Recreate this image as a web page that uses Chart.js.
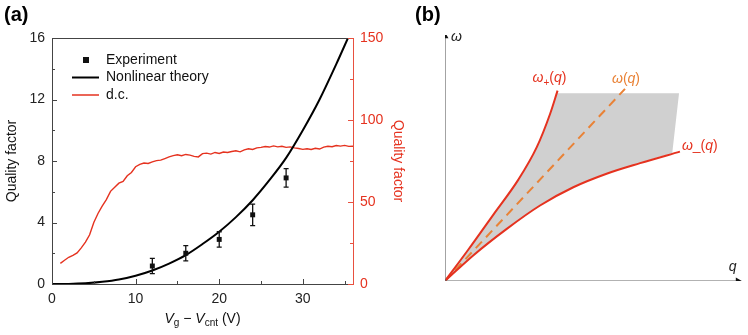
<!DOCTYPE html>
<html>
<head>
<meta charset="utf-8">
<script src="https://cdn.jsdelivr.net/npm/chart.js@4.4.1/dist/chart.umd.min.js"></script>
<style>
html,body{margin:0;padding:0;background:#fff;}
#wrap{position:relative;width:748px;height:335px;overflow:hidden;}
#ca{position:absolute;left:0;top:0;}
#cb{position:absolute;left:410px;top:0;}
</style>
</head>
<body>
<div id="wrap">
<canvas id="ca" width="410" height="335"></canvas>
<canvas id="cb" width="338" height="335"></canvas>
</div>
<script>
// ---------- Panel (a) data ----------
const expV   = [12, 16, 20, 24, 28];
const expQ   = [1.17, 2.0, 2.9, 4.5, 6.9];
const expErr = [0.5, 0.5, 0.5, 0.7, 0.6];

const theoryV = [0, 2, 4, 6, 8, 10, 12, 14, 16, 18, 20, 22, 24, 26, 28, 30, 32, 34, 35.4];
const theoryQ = [0, 0.007, 0.047, 0.14, 0.29, 0.54, 0.88, 1.33, 1.88, 2.6, 3.4, 4.35, 5.45, 6.75, 8.2, 10.0, 12.0, 14.3, 16.0];

const dcV = [1,1.5,2,2.5,3,3.5,4,4.5,5,5.5,6,6.5,7,7.5,8,8.5,9,9.5,10,10.5,11,11.5,12,12.5,13,13.5,14,14.5,15,15.5,16,16.5,17,17.5,18,18.5,19,19.5,20,20.5,21,21.5,22,22.5,23,23.5,24,24.5,25,25.5,26,26.5,27,27.5,28,28.5,29,29.5,30,30.5,31,31.5,32,32.5,33,33.5,34,34.5,35,35.5,36];
const dcQ = [12.6,14.5,16.3,17.5,19,22,25.5,30,37.5,43,47.5,51.5,56.5,59,61.5,62.5,66,68,71.5,73,73.8,73.5,74.5,75.2,75.5,76.5,77.5,78.3,78.8,78.2,79,78.6,77.8,77.5,79.5,79.8,79.2,80.2,79.6,80.5,80.2,80.8,81.2,80.6,81.8,82.5,82,83,83.3,83.8,83.5,84.2,83.6,84,83.3,83.6,83,82.6,82.1,82.5,82,82.8,82.3,83.5,84,83.7,84.4,84.1,84.5,83.9,84];

const xTicks = [0, 10, 20, 30],      xMinor = [5, 15, 25, 35];
const yTicks = [0, 4, 8, 12, 16],    yMinor = [2, 6, 10, 14];
const y2Ticks = [0, 50, 100, 150],   y2Minor = [25, 75, 125];

const legendLabels = ['Experiment', 'Nonlinear theory', 'd.c.'];

// ---------- Panel (b) data (schematic, arbitrary units) ----------
const plusQ  = [0, 0.8, 1.63, 2.47, 3.09, 3.54, 3.79];
const plusW  = [0, 1.3, 2.70, 4.12, 5.44, 6.80, 7.74];
const minusQ = [0, 0.95, 2.08, 3.20, 4.32, 5.44, 6.57, 7.91];
const minusW = [0, 1.04, 2.12, 3.07, 3.81, 4.36, 4.79, 5.26];
const midQ   = [0, 6.06];
const midW   = [0, 7.81];
const bandQ  = [0, 0.4, 0.8, 1.2, 1.63, 2.05, 2.47, 2.8, 3.09, 3.33, 3.54, 3.68, 3.76, 7.88, 7.65, 7.2, 6.57, 6.0, 5.44, 4.88, 4.32, 3.76, 3.20, 2.64, 2.08, 1.5, 0.95, 0.45, 0];
const bandW  = [0, 0.65, 1.3, 1.98, 2.70, 3.41, 4.12, 4.8, 5.44, 6.1, 6.80, 7.25, 7.63, 7.63, 5.18, 5.05, 4.79, 4.59, 4.36, 4.11, 3.81, 3.46, 3.07, 2.62, 2.12, 1.6, 1.04, 0.5, 0];

const FONT = "'Liberation Sans', Arial, sans-serif";
const RED = '#e5321f';
const RED_AX = '#e8503f';
const ORANGE = '#e98236';
const AX = '#444';

const pts = (xs, ys) => xs.map((v, i) => ({x: v, y: ys[i]}));

// ---------- Panel (a) ----------
const panelA = {
  id: 'panelA',
  afterDraw(chart) {
    const {ctx, chartArea: ca, scales: {x, y, y2}} = chart;
    ctx.save();
    ctx.strokeStyle = AX; ctx.lineWidth = 1;
    ctx.beginPath(); ctx.moveTo(ca.left, ca.top + 0.5); ctx.lineTo(ca.right, ca.top + 0.5); ctx.stroke();
    const tick = (scale, vals, len, color, side) => {
      ctx.strokeStyle = color; ctx.lineWidth = 1;
      vals.forEach(v => {
        const p = Math.round(scale.getPixelForValue(v)) + 0.5;
        ctx.beginPath();
        if (side === 'b') { ctx.moveTo(p, ca.bottom); ctx.lineTo(p, ca.bottom - len); }
        if (side === 'l') { ctx.moveTo(ca.left, p); ctx.lineTo(ca.left + len, p); }
        if (side === 'r') { ctx.moveTo(ca.right, p); ctx.lineTo(ca.right - len, p); }
        ctx.stroke();
      });
    };
    tick(x, xTicks, 5, AX, 'b'); tick(x, xMinor, 3, AX, 'b');
    tick(y, yTicks, 5, AX, 'l'); tick(y, yMinor, 3, AX, 'l');
    tick(y2, y2Ticks, 5, RED_AX, 'r'); tick(y2, y2Minor, 3, RED_AX, 'r');

    ctx.strokeStyle = '#111'; ctx.lineWidth = 1.3;
    expV.forEach((v, i) => {
      const px = x.getPixelForValue(v);
      const pTop = y.getPixelForValue(expQ[i] + expErr[i]);
      const pBot = y.getPixelForValue(expQ[i] - expErr[i]);
      ctx.beginPath();
      ctx.moveTo(px, pTop); ctx.lineTo(px, pBot);
      ctx.moveTo(px - 2.5, pTop); ctx.lineTo(px + 2.5, pTop);
      ctx.moveTo(px - 2.5, pBot); ctx.lineTo(px + 2.5, pBot);
      ctx.stroke();
    });

    const ds = chart.data.datasets;
    const lx = ca.left + 20, tx = ca.left + 54;
    let ly = ca.top + 22;
    ctx.font = '14px ' + FONT; ctx.textBaseline = 'middle'; ctx.textAlign = 'left';
    ctx.fillStyle = '#111';
    ctx.fillRect(lx + 11, ly - 3, 6, 6);
    ctx.fillText(legendLabels[0], tx, ly);
    ly += 17.5;
    ctx.strokeStyle = ds[1].borderColor; ctx.lineWidth = 2;
    ctx.beginPath(); ctx.moveTo(lx, ly); ctx.lineTo(lx + 27, ly); ctx.stroke();
    ctx.fillText(legendLabels[1], tx, ly);
    ly += 17.5;
    ctx.strokeStyle = ds[2].borderColor; ctx.lineWidth = 1.5;
    ctx.beginPath(); ctx.moveTo(lx, ly); ctx.lineTo(lx + 27, ly); ctx.stroke();
    ctx.fillText(legendLabels[2], tx, ly);

    ctx.font = 'bold 20px ' + FONT; ctx.fillStyle = '#000';
    ctx.fillText('(a)', 4, 15);

    const parts = [
      {t: 'V', f: 'italic 14px ' + FONT, dy: 0},
      {t: 'g', f: '10px ' + FONT, dy: 3},
      {t: ' \u2212 ', f: '14px ' + FONT, dy: 0},
      {t: 'V', f: 'italic 14px ' + FONT, dy: 0},
      {t: 'cnt', f: '10px ' + FONT, dy: 3},
      {t: ' (V)', f: '14px ' + FONT, dy: 0}
    ];
    let w = 0;
    parts.forEach(p => { ctx.font = p.f; p.w = ctx.measureText(p.t).width; w += p.w; });
    let cx = (ca.left + ca.right) / 2 - w / 2;
    const base = ca.bottom + 39;
    ctx.textBaseline = 'alphabetic'; ctx.fillStyle = '#111';
    parts.forEach(p => { ctx.font = p.f; ctx.fillText(p.t, cx, base + p.dy); cx += p.w; });
    ctx.restore();
  }
};

new Chart(document.getElementById('ca'), {
  type: 'scatter',
  data: {
    datasets: [
      {
        label: legendLabels[0], data: pts(expV, expQ), yAxisID: 'y',
        pointStyle: 'rect', pointRadius: 3.5, pointBackgroundColor: '#111', pointBorderColor: '#111', pointBorderWidth: 0,
        showLine: false
      },
      {
        label: legendLabels[1], data: pts(theoryV, theoryQ), yAxisID: 'y',
        showLine: true, borderColor: '#000', borderWidth: 2, pointRadius: 0, cubicInterpolationMode: 'monotone'
      },
      {
        label: legendLabels[2], data: pts(dcV, dcQ), yAxisID: 'y2',
        showLine: true, borderColor: RED, borderWidth: 1.4, pointRadius: 0, tension: 0
      }
    ]
  },
  options: {
    responsive: false, animation: false, devicePixelRatio: 1,
    layout: {padding: {top: 38, left: 0, right: 0, bottom: 0}},
    plugins: {legend: {display: false}, tooltip: {enabled: false}},
    scales: {
      x: {
        type: 'linear', position: 'bottom', min: 0, max: 36,
        afterBuildTicks: s => { s.ticks = xTicks.map(v => ({value: v})); },
        afterFit: s => { s.height = 51; },
        grid: {display: false, drawTicks: false},
        border: {display: true, color: AX, width: 1},
        ticks: {padding: 7, color: '#222', font: {family: FONT, size: 14}, maxRotation: 0}
      },
      y: {
        type: 'linear', position: 'left', min: 0, max: 16,
        afterBuildTicks: s => { s.ticks = yTicks.map(v => ({value: v})); },
        afterFit: s => { s.width = 52; },
        grid: {display: false, drawTicks: false},
        border: {display: true, color: AX, width: 1},
        ticks: {padding: 7, color: '#222', font: {family: FONT, size: 14}},
        title: {display: true, text: 'Quality factor', color: '#111', font: {family: FONT, size: 14}, padding: {top: 4, bottom: 4}}
      },
      y2: {
        type: 'linear', position: 'right', min: 0, max: 150,
        afterBuildTicks: s => { s.ticks = y2Ticks.map(v => ({value: v})); },
        afterFit: s => { s.width = 57; },
        grid: {display: false, drawTicks: false},
        border: {display: true, color: RED_AX, width: 1},
        ticks: {padding: 7, color: RED, font: {family: FONT, size: 14}},
        title: {display: true, text: 'Quality factor', color: RED, font: {family: FONT, size: 14}, padding: {top: 4, bottom: 2}}
      }
    }
  },
  plugins: [panelA]
});

// ---------- Panel (b) ----------
const panelB = {
  id: 'panelB',
  afterDraw(chart) {
    const {ctx, scales: {x, y}} = chart;
    ctx.save();
    ctx.textBaseline = 'middle'; ctx.textAlign = 'left';
    ctx.font = 'bold 20px ' + FONT; ctx.fillStyle = '#000';
    ctx.fillText('(b)', 5, 15);

    const X = v => x.getPixelForValue(v), Y = v => y.getPixelForValue(v);
    const om = 'italic 14px ' + FONT, nm = '14px ' + FONT;
    const drawRun = (runs, px, py, color) => {
      ctx.fillStyle = color;
      runs.forEach(r => { ctx.font = r.f; ctx.fillText(r.t, px, py + (r.dy || 0)); px += ctx.measureText(r.t).width; });
    };
    drawRun([{t: '\u03c9', f: om}], X(0) + 6, Y(10) + 2, '#222');
    drawRun([{t: 'q', f: om}], X(9.55), Y(0) - 14, '#222');
    const pe = plusQ.length - 1, me = minusQ.length - 1;
    drawRun([{t: '\u03c9', f: om}, {t: '+', f: '10px ' + FONT, dy: 5}, {t: '(', f: nm}, {t: 'q', f: om}, {t: ')', f: nm}],
            X(plusQ[pe]) - 25, Y(plusW[pe]) - 12, RED);
    drawRun([{t: '\u03c9', f: om}, {t: '(', f: nm}, {t: 'q', f: om}, {t: ')', f: nm}],
            X(midQ[1]) - 13, Y(midW[1]) - 10, ORANGE);
    drawRun([{t: '\u03c9', f: om}, {t: '_', f: nm}, {t: '(', f: nm}, {t: 'q', f: om}, {t: ')', f: nm}],
            X(minusQ[me]) + 2, Y(minusW[me]) - 5, RED);
    ctx.restore();
  }
};

new Chart(document.getElementById('cb'), {
  type: 'scatter',
  data: {
    datasets: [
      {data: pts(bandQ, bandW), showLine: true, fill: 'shape', backgroundColor: '#d0d0d0', borderWidth: 0, borderColor: 'rgba(0,0,0,0)', pointRadius: 0, order: 10},
      {data: pts(midQ, midW), showLine: true, borderColor: ORANGE, borderWidth: 2, borderDash: [9, 6], pointRadius: 0, order: 2},
      {data: pts(plusQ, plusW), showLine: true, borderColor: RED, borderWidth: 2, pointRadius: 0, cubicInterpolationMode: 'monotone', order: 1},
      {data: pts(minusQ, minusW), showLine: true, borderColor: RED, borderWidth: 2, pointRadius: 0, cubicInterpolationMode: 'monotone', order: 1},
      {data: [{x: 0, y: 0}, {x: 9.86, y: 0}], showLine: true, borderColor: '#666', borderWidth: 1.2,
       pointRadius: [0, 4], pointStyle: 'triangle', rotation: [0, 90], pointBackgroundColor: '#111', pointBorderWidth: 0, order: 0},
      {data: [{x: 0, y: 0}, {x: 0, y: 9.95}], showLine: true, borderColor: '#666', borderWidth: 1.2,
       pointRadius: [0, 4], pointStyle: 'triangle', rotation: 0, pointBackgroundColor: '#111', pointBorderWidth: 0, order: 0}
    ]
  },
  options: {
    responsive: false, animation: false, devicePixelRatio: 1,
    layout: {padding: {top: 35, left: 35, right: 6, bottom: 54}},
    plugins: {legend: {display: false}, tooltip: {enabled: false}},
    scales: {
      x: {type: 'linear', min: 0, max: 10, display: false},
      y: {type: 'linear', min: 0, max: 10, display: false}
    }
  },
  plugins: [panelB]
});
</script>
</body>
</html>
